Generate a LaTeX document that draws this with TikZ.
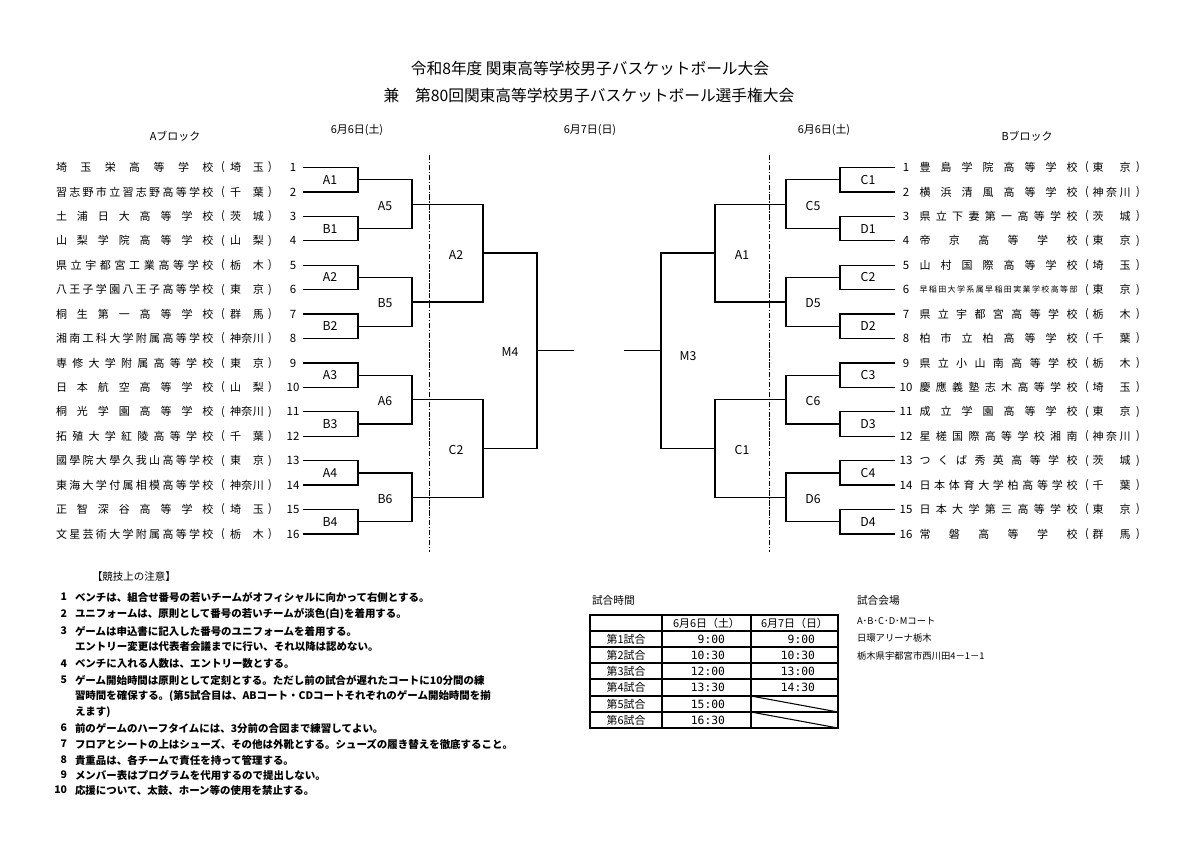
\documentclass[tikz,border=0pt]{standalone}
\usepackage{fontspec}
\setmainfont{Noto Sans CJK JP}
\newfontfamily\monofnt{DejaVu Sans Mono}
\newcommand\fsz[1]{\fontsize{#1}{#1}\selectfont}
\def\sprdA#1{#1\sprdB}
\def\sprdB#1{\ifx#1\relax\else\hskip 0pt plus 1fil minus 1fil\relax#1\expandafter\sprdB\fi}
\def\sprd#1{\sprdA#1\relax}
\def\sprdm#1{\expandafter\sprd\expandafter{#1}}
\begin{document}
\begin{tikzpicture}[x=0.75pt,y=-0.75pt,
  every node/.style={inner sep=0pt,outer sep=0pt},
  br/.style={line width=0.95pt,line join=miter,line cap=rect},
  sep/.style={line width=0.6pt,dash pattern=on 4pt off 1.2pt on 1pt off 1.2pt},
  nm/.style={font=\fsz{8.25pt}},
  num/.style={font=\fsz{8.6pt}},
  hd/.style={font=\fsz{8.2pt}},
  lab/.style={font=\fsz{9.2pt}},
  nt/.style={font=\bfseries\fsz{7.85pt},anchor=west},
  ntn/.style={font=\bfseries\fsz{7.85pt},anchor=east},
  tb/.style={font=\fsz{8.2pt}},
  tm/.style={font=\monofnt\fsz{8.5pt},anchor=east},
  tl/.style={line width=0.8pt},
  vn/.style={font=\fsz{7pt},anchor=west}]
\fill[white] (0,0) rectangle (1200,849);
\useasboundingbox (0,0) rectangle (1200,849);

% titles
\node[font=\fsz{11.8pt}] (title1) at (590,69) {令和8年度 関東高等学校男子バスケットボール大会};
\node[font=\fsz{11.8pt}] (title2) at (589,96) {兼　第80回関東高等学校男子バスケットボール選手権大会};

% headers
\node[hd] (hA) at (175,136) {Aブロック};
\node[hd] (d1) at (357,130) {6月6日(土)};
\node[hd] (d2) at (590,130) {6月7日(日)};
\node[hd] (d3) at (824,130) {6月6日(土)};
\node[hd] (hB) at (1027,136) {Bブロック};

% left teams
\foreach \n/\nm/\pf in {1/埼玉栄高等学校/埼玉,2/習志野市立習志野高等学校/千葉,3/土浦日大高等学校/茨城,4/山梨学院高等学校/山梨,5/県立宇都宮工業高等学校/栃木,6/八王子学園八王子高等学校/東京,7/桐生第一高等学校/群馬,8/湘南工科大学附属高等学校/神奈川,9/専修大学附属高等学校/東京,10/日本航空高等学校/山梨,11/桐光学園高等学校/神奈川,12/拓殖大学紅陵高等学校/千葉,13/國學院大學久我山高等学校/東京,14/東海大学付属相模高等学校/神奈川,15/正智深谷高等学校/埼玉,16/文星芸術大学附属高等学校/栃木}{
  \pgfmathsetmacro\yy{167.5+(\n-1)*24.43}
  \node[nm,anchor=west] (Lname\n) at (56,\yy) {\hbox to 118.1pt{\sprdm{\nm}}};
  \node[nm] (Lpo\n) at (223,\yy) {(};
  \node[nm,anchor=west] (Lpref\n) at (230,\yy) {\hbox to 25.5pt{\sprdm{\pf}}};
  \node[nm] (Lpc\n) at (270,\yy) {)};
  \node[num] (Lnum\n) at (293,\yy) {\n};
}

% right teams
\foreach \n/\nm/\pf/\fz in {1/豊島学院高等学校/東京/8.25,2/横浜清風高等学校/神奈川/8.25,3/県立下妻第一高等学校/茨城/8.25,4/帝京高等学校/東京/8.25,5/山村国際高等学校/埼玉/8.25,6/早稲田大学系属早稲田実業学校高等部/東京/6,7/県立宇都宮高等学校/栃木/8.25,8/柏市立柏高等学校/千葉/8.25,9/県立小山南高等学校/栃木/8.25,10/慶應義塾志木高等学校/埼玉/8.25,11/成立学園高等学校/東京/8.25,12/星槎国際高等学校湘南/神奈川/8.25,13/つくば秀英高等学校/茨城/8.25,14/日本体育大学柏高等学校/千葉/8.25,15/日本大学第三高等学校/東京/8.25,16/常磐高等学校/群馬/8.25}{
  \pgfmathsetmacro\yy{167.5+(\n-1)*24.43}
  \node[num] (Rnum\n) at (906,\yy) {\n};
  \node[anchor=west,font=\fsz{\fz pt}] (Rname\n) at (919.5,\yy) {\hbox to 118.5pt{\sprdm{\nm}}};
  \node[nm] (Rpo\n) at (1087,\yy) {(};
  \node[nm,anchor=west] (Rpref\n) at (1092.5,\yy) {\hbox to 28.5pt{\sprdm{\pf}}};
  \node[nm] (Rpc\n) at (1138,\yy) {)};
}

% brackets
\foreach \s/\o/\g in {L/0/1,R/1198/-1}{
  \foreach \k in {1,...,8}{
    \pgfmathsetmacro\ya{167.5+(2*\k-2)*24.43}
    \pgfmathsetmacro\yb{\ya+24.43}
    \pgfmathsetmacro\xa{\o+\g*304}
    \pgfmathsetmacro\xb{\o+\g*358}
    \draw[br] (\xa,\ya) coordinate (\s ta\k) -- (\xb,\ya) -- (\xb,\yb) -- (\xa,\yb) coordinate (\s tb\k);
  }
  \foreach \k in {1,...,4}{
    \pgfmathsetmacro\ya{167.5+(4*\k-3.5)*24.43}
    \pgfmathsetmacro\yb{\ya+2*24.43}
    \pgfmathsetmacro\xa{\o+\g*358}
    \pgfmathsetmacro\xb{\o+\g*412}
    \draw[br] (\xa,\ya) coordinate (\s ua\k) -- (\xb,\ya) -- (\xb,\yb) -- (\xa,\yb) coordinate (\s ub\k);
  }
  \foreach \k in {1,2}{
    \pgfmathsetmacro\ya{167.5+(8*\k-6.5)*24.43}
    \pgfmathsetmacro\yb{\ya+4*24.43}
    \pgfmathsetmacro\xa{\o+\g*412}
    \pgfmathsetmacro\xb{\o+\g*483}
    \draw[br] (\xa,\ya) coordinate (\s va\k) -- (\xb,\ya) -- (\xb,\yb) -- (\xa,\yb) coordinate (\s vb\k);
  }
  \pgfmathsetmacro\ya{167.5+3.5*24.43}
  \pgfmathsetmacro\yb{167.5+11.5*24.43}
  \pgfmathsetmacro\ym{167.5+7.5*24.43}
  \pgfmathsetmacro\xa{\o+\g*483}
  \pgfmathsetmacro\xb{\o+\g*537}
  \pgfmathsetmacro\xc{\o+\g*573}
  \draw[br] (\xa,\ya) coordinate (\s wa) -- (\xb,\ya) -- (\xb,\yb) -- (\xa,\yb) coordinate (\s wb);
  \draw[br] (\xb,\ym) coordinate (\s fin) -- (\xc,\ym) coordinate (\s stub);
}

% bracket labels
\foreach \t [count=\k] in {A1,B1,A2,B2,A3,B3,A4,B4}{
  \pgfmathsetmacro\yy{167.5+(2*\k-1.5)*24.43}
  \node[lab] (La\k) at (330,\yy) {\t};}
\foreach \t [count=\k] in {C1,D1,C2,D2,C3,D3,C4,D4}{
  \pgfmathsetmacro\yy{167.5+(2*\k-1.5)*24.43}
  \node[lab] (Ra\k) at (868,\yy) {\t};}
\foreach \t [count=\k] in {A5,B5,A6,B6}{
  \pgfmathsetmacro\yy{167.5+(4*\k-2.5)*24.43+1.5}
  \node[lab] (Lb\k) at (385,\yy) {\t};}
\foreach \t [count=\k] in {C5,D5,C6,D6}{
  \pgfmathsetmacro\yy{167.5+(4*\k-2.5)*24.43+1.5}
  \node[lab] (Rb\k) at (813,\yy) {\t};}
\foreach \t [count=\k] in {A2,C2}{
  \pgfmathsetmacro\yy{167.5+(8*\k-4.5)*24.43+2}
  \node[lab] (Lc\k) at (456,\yy) {\t};}
\foreach \t [count=\k] in {A1,C1}{
  \pgfmathsetmacro\yy{167.5+(8*\k-4.5)*24.43+2}
  \node[lab] (Rc\k) at (742,\yy) {\t};}
\node[lab] (Ld) at (510,352) {M4};
\node[lab] (Rd) at (688,356) {M3};

% dashed day separators
\coordinate (sepL1) at (429,155); \coordinate (sepL2) at (429,552);
\coordinate (sepR1) at (769,155); \coordinate (sepR2) at (769,552);
\draw[sep] (sepL1) -- (sepL2);
\draw[sep] (sepR1) -- (sepR2);

% notes
\node[anchor=west,font=\fsz{7.85pt}] (nh) at (92,577) {【競技上の注意】};
\node[ntn] (n1) at (67,597) {1};
\node[nt] (t1) at (75,597) {ベンチは、組合せ番号の若いチームがオフィシャルに向かって右側とする。};
\node[ntn] (n2) at (67,614) {2};
\node[nt] (t2) at (75,614) {ユニフォームは、原則として番号の若いチームが淡色(白)を着用する。};
\node[ntn] (n3) at (67,631) {3};
\node[nt] (t3) at (75,631) {ゲームは申込書に記入した番号のユニフォームを着用する。};
\node[nt] (t3b) at (75,647) {エントリー変更は代表者会議までに行い、それ以降は認めない。};
\node[ntn] (n4) at (67,664) {4};
\node[nt] (t4) at (75,664) {ベンチに入れる人数は、エントリー数とする。};
\node[ntn] (n5) at (67,680) {5};
\node[nt] (t5) at (75,680) {ゲーム開始時間は原則として定刻とする。ただし前の試合が遅れたコートに10分間の練};
\node[nt] (t5b) at (75,696) {習時間を確保する。(第5試合目は、ABコート・CDコートそれぞれのゲーム開始時間を揃};
\node[nt] (t5c) at (75,712) {えます)};
\node[ntn] (n6) at (67,728) {6};
\node[nt] (t6) at (75,728) {前のゲームのハーフタイムには、3分前の合図まで練習してよい。};
\node[ntn] (n7) at (67,744) {7};
\node[nt] (t7) at (75,744) {フロアとシートの上はシューズ、その他は外靴とする。シューズの履き替えを徹底すること。};
\node[ntn] (n8) at (67,760) {8};
\node[nt] (t8) at (75,760) {貴重品は、各チームで責任を持って管理する。};
\node[ntn] (n9) at (67,775) {9};
\node[nt] (t9) at (75,775) {メンバー表はプログラムを代用するので提出しない。};
\node[ntn] (n10) at (67,790) {10};
\node[nt] (t10) at (75,790) {応援について、太鼓、ホーン等の使用を禁止する。};

% time table
\node[anchor=west,font=\fsz{8pt}] (tth) at (592,600) {試合時間};
\draw[tl] (590,631) -- (838,631);
\foreach \yy in {647,663,679,696,712}{\draw[tl] (590,\yy) -- (838,\yy);}
\draw[tl] (662,615) -- (662,728);
\draw[tl] (751,615) -- (751,728);
\draw[line width=1pt] (590,615) rectangle (838,728);
\node[tb] (ch1) at (706.5,623) {6月6日（土）};
\node[tb] (ch2) at (794.5,623) {6月7日（日）};
\foreach \r/\yy/\ta/\tb in {1/639/9:00/9:00,2/655/10:30/10:30,3/671/12:00/13:00,4/687.5/13:30/14:30}{
  \node[tb] (rl\r) at (626,\yy) {第\r 試合};
  \node[tm] (ta\r) at (725,\yy) {\ta};
  \node[tm] (tb\r) at (815,\yy) {\tb};
}
\node[tb] (rl5) at (626,704) {第5試合};
\node[tm] (ta5) at (725,704) {15:00};
\node[tb] (rl6) at (626,720) {第6試合};
\node[tm] (ta6) at (725,720) {16:30};
\coordinate (x5a) at (751,696); \coordinate (x5b) at (838,712);
\coordinate (x6a) at (751,712); \coordinate (x6b) at (838,728);
\draw[tl] (x5a) -- (x5b);
\draw[tl] (x6a) -- (x6b);

% venue
\node[anchor=west,font=\fsz{8pt}] (vh) at (857,600) {試合会場};
\node[vn] (v1) at (857,621) {A･B･C･D･Mコート};
\node[vn] (v2) at (857,638) {日環アリーナ栃木};
\node[vn] (v3) at (857,656) {栃木県宇都宮市西川田4－1－1};
\end{tikzpicture}
\end{document}
